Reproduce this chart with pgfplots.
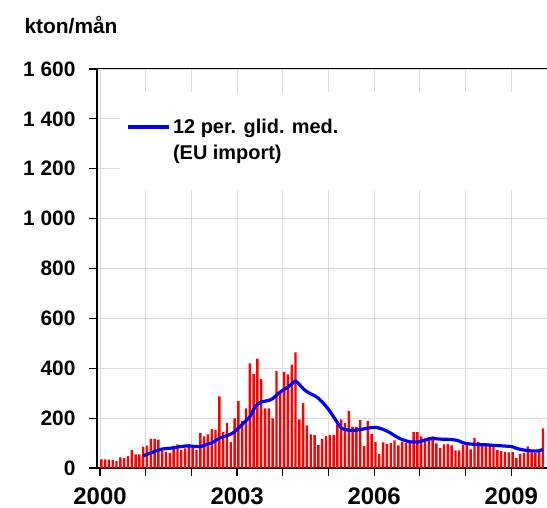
\documentclass[border=0pt]{standalone}
\usepackage{pgfplots}
\pgfplotsset{compat=1.18}
\usepackage{fontspec}
\setmainfont{Liberation Sans}
\definecolor{gridgray}{RGB}{220,220,220}
\begin{document}
\begin{tikzpicture}
\path[use as bounding box] (-97bp,-40bp) rectangle (450bp,468bp);
\begin{axis}[
  scale only axis, width=450bp, height=399bp,
  xmin=-1.13, xmax=117.04, ymin=0, ymax=1600,
  axis x line*=bottom, axis y line*=left,
  axis line style={black, line width=1.6bp},
  tick align=outside, major tick length=8bp,
  tick style={black, line width=1.2bp},
  xtick={-0.34,11.66,23.66,35.66,47.66,59.66,71.66,83.66,95.66,107.66},
  xticklabels={2000,,,2003,,,2006,,,2009},
  ytick={0,200,400,600,800,1000,1200,1400,1600},
  yticklabels={0,200,400,600,800,1 000,1 200,1 400,1 600},
  /pgf/number format/assume math mode=true,
  xticklabel style={font=\fontsize{24}{24}\selectfont\bfseries, yshift=-8bp},
  yticklabel style={font=\fontsize{21}{21}\selectfont\bfseries, xshift=-10bp},
  grid=major, major grid style={gridgray, line width=0.9bp},
  extra y ticks={1600}, extra y tick labels={},
  extra y tick style={grid=major, major grid style={black, line width=1bp}},
  legend style={at={(0.066,0.88)}, anchor=north west, draw=none, fill=none,
    font=\fontsize{20}{26}\selectfont\bfseries, cells={align=left}, inner sep=0pt},
  legend image code/.code={\path[draw=none] (0bp,-13bp) -- (0bp,13bp);\draw[#1] (0bp,13bp) -- (41bp,13bp);},
  clip=false,
]
\fill[white] (rel axis cs:0.051,0.697) rectangle (rel axis cs:1,0.942);
\addplot[ybar, bar width=2.4bp, fill=red, draw=none, forget plot] table {
x y
0 35
1 35
2 34
3 33
4 28
5 43
6 40
7 48
8 73
9 55
10 55
11 86
12 90
13 117
14 117
15 114
16 68
17 65
18 60
19 89
20 95
21 72
22 79
23 87
24 81
25 72
26 140
27 127
28 135
29 156
30 153
31 287
32 144
33 181
34 105
35 199
36 268
37 188
38 239
39 420
40 377
41 439
42 356
43 239
44 239
45 199
46 388
47 300
48 385
49 375
50 415
51 464
52 195
53 260
54 171
55 135
56 132
57 92
58 117
59 128
60 132
61 132
62 175
63 195
64 180
65 228
66 165
67 165
68 192
69 88
70 188
71 137
72 104
73 57
74 103
75 97
76 100
77 111
78 91
79 105
80 101
81 101
82 144
83 144
84 127
85 119
86 124
87 127
88 99
89 81
90 95
91 97
92 91
93 71
94 71
95 92
96 92
97 75
98 121
99 105
100 91
101 88
102 88
103 84
104 72
105 68
106 65
107 63
108 64
109 41
110 57
111 60
112 87
113 61
114 60
115 65
116 159
};
\addplot[blue, line width=3.2bp, line join=round] table {
x y
11 48
12 55
13 61
14 66
15 72
16 76
17 78
18 79
19 81
20 84
21 86
22 88
23 89
24 87
25 86
26 86
27 90
28 96
29 101
30 110
31 120
32 125
33 130
34 136
35 145
36 160
37 175
38 190
39 205
40 235
41 256
42 265
43 268
44 271
45 278
46 292
47 305
48 315
49 325
50 337
51 350
52 335
53 318
54 306
55 297
56 290
57 280
58 265
59 248
60 228
61 205
62 182
63 160
64 154
65 152
66 151
67 152
68 154
69 157
70 160
71 162
72 163
73 160
74 155
75 148
76 140
77 130
78 121
79 114
80 109
81 105
82 104
83 104
84 107
85 112
86 116
87 118
88 117
89 116
90 115
91 115
92 114
93 112
94 108
95 101
96 98
97 96
98 95
99 94
100 93
101 93
102 92
103 91
104 90
105 89
106 88
107 87
108 85
109 79
110 75
111 72
112 70
113 68
114 68
115 69
116 75
};
\addlegendentry{12 per. glid. med.\\(EU import)}
\end{axis}
\node[anchor=west, font=\fontsize{21}{21}\selectfont\bfseries] at (-76bp,443bp) {kton/mån};
\end{tikzpicture}
\end{document}
